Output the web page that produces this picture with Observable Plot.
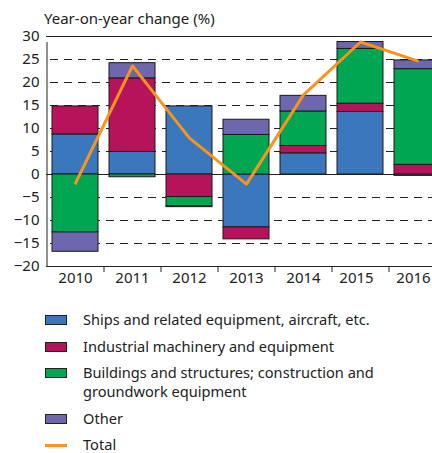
<!DOCTYPE html>
<html>
<head>
<meta charset="utf-8">
<script src="https://cdn.jsdelivr.net/npm/d3@7"></script>
<script src="https://cdn.jsdelivr.net/npm/@observablehq/plot@0.6"></script>
<style>
  html, body { margin: 0; padding: 0; background: #fff; overflow: hidden; }
  body { width: 432px; height: 453px; position: relative; font-family: "Noto Sans", sans-serif; color: #222; }
  #title { position: absolute; left: 44px; top: 11px; font-size: 15px; line-height: 15px; white-space: nowrap; }
  #chart { position: absolute; left: 0; top: 0; width: 446px; }
  #chart svg { max-width: none !important; width: 446px; height: 300px; }
  #legend { position: absolute; left: 45px; top: 310px; font-size: 14.6px; line-height: 19px; }
  .row { display: flex; align-items: flex-start; margin-bottom: 7.5px; }
  .sw { width: 20px; height: 8px; border: 1px solid #222; margin-top: 5px; margin-right: 16px; flex: none; }
  .ln { width: 22px; height: 2.5px; margin-top: 9px; margin-right: 16px; flex: none; }
</style>
</head>
<body>
<div id="chart"></div>
<div id="title">Year-on-year change (%)</div>
<div id="legend"></div>
<script>
const years = ["2010", "2011", "2012", "2013", "2014", "2015", "2016"];
const seriesNames = [
  "Ships and related equipment, aircraft, etc.",
  "Industrial machinery and equipment",
  "Buildings and structures; construction and groundwork equipment",
  "Other"
];
const seriesColors = ["#3a77bd", "#b7135a", "#00a651", "#6f67ad"];
const ships      = [8.7, 4.9, 14.8, -11.5, 4.6, 13.6, -0.3];
const industrial = [6.1, 16.0, -4.9, -2.6, 1.6, 1.8, 2.1];
const buildings  = [-12.6, -0.6, -2.0, 8.6, 7.5, 11.9, 20.8];
const other      = [-4.2, 3.3, -0.2, 3.3, 3.4, 1.5, 1.9];
const total      = [-1.9, 23.6, 7.9, -2.1, 17.3, 28.8, 24.7];
const yTicks = [-20, -15, -10, -5, 0, 5, 10, 15, 20, 25, 30];
const gridTicks = [-15, -10, -5, 5, 10, 15, 20, 25];
const totalColor = "#f7941d";

const seriesArrays = [ships, industrial, buildings, other];
const rows = years.flatMap((yr, i) =>
  seriesArrays.map((arr, k) => ({year: yr, series: seriesNames[k], value: arr[i]}))
);
const totalRows = years.map((yr, i) => ({year: yr, value: total[i]}));

const chart = Plot.plot({
  width: 446,
  height: 300,
  marginLeft: 46,
  marginRight: 0,
  marginTop: 36,
  marginBottom: 34,
  style: {fontFamily: "Noto Sans", fontSize: "15px", color: "#222", background: "transparent", maxWidth: "none"},
  x: {domain: years, paddingInner: 0.2, paddingOuter: 0.1, axis: null, label: null},
  y: {domain: [-20, 30], axis: null, label: null},
  color: {domain: seriesNames, range: seriesColors},
  marks: [
    Plot.ruleY(gridTicks, {stroke: "#222", strokeWidth: 1, strokeDasharray: "8,6", strokeDashoffset: 10}),
    Plot.ruleY([0], {stroke: "#222", strokeWidth: 1}),
    Plot.ruleY([30], {stroke: "#222", strokeWidth: 1}),
    Plot.ruleY([-20], {stroke: "#222", strokeWidth: 1}),
    Plot.ruleX([years[0]], {dx: -28.5, y1: -20, y2: 30, insetBottom: -6, stroke: "#222"}),
    Plot.ruleX(years.slice(1), {dx: -28.5, y1: -20, y2: -20, insetBottom: -6, stroke: "#222"}),
    Plot.barY(rows, {x: "year", y: "value", fill: "series", stroke: "#1a1a1a", strokeWidth: 1, order: seriesNames}),
    Plot.line(totalRows, {x: "year", y: "value", stroke: totalColor, strokeWidth: 3}),
    Plot.axisY(yTicks, {tickSize: 0, tickPadding: 7, fontSize: 15, label: null}),
    Plot.axisX(years.slice(0, 5), {tickSize: 0, tickPadding: 6, fontSize: 15, label: null}),
    Plot.axisX(years.slice(5), {tickSize: 0, tickPadding: 6, fontSize: 15, label: null, dx: -4})
  ]
});
document.getElementById("chart").appendChild(chart);

const legend = document.getElementById("legend");
const legendLabels = [
  "Ships and related equipment, aircraft, etc.",
  "Industrial machinery and equipment",
  "Buildings and structures; construction and<br>groundwork equipment",
  "Other"
];
legendLabels.forEach((lab, k) => {
  const r = document.createElement("div");
  r.className = "row";
  r.innerHTML = `<div class="sw" style="background:${seriesColors[k]}"></div><div>${lab}</div>`;
  legend.appendChild(r);
});
const tr = document.createElement("div");
tr.className = "row";
tr.innerHTML = `<div class="ln" style="background:${totalColor}"></div><div>Total</div>`;
legend.appendChild(tr);
</script>
</body>
</html>
